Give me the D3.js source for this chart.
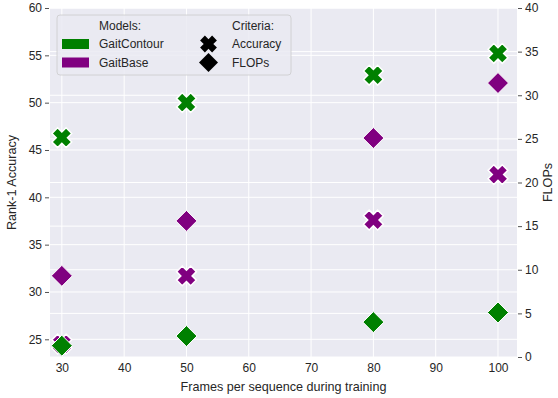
<!DOCTYPE html>
<html>
<head>
<meta charset="utf-8">
<script src="https://cdn.jsdelivr.net/npm/d3@7"></script>
<style>
  body { margin: 0; background: #fff; }
  svg { display: block; font-family: "Liberation Sans", Arial, sans-serif; }
</style>
</head>
<body>
<div id="chart"></div>
<script>
// frames per sequence during training
const frames = [30, 50, 80, 100];
const models = ['GaitContour', 'GaitBase'];
const modelColors = ['#008000', '#800080'];

// rank-1 accuracy (left axis)
const accContour = [46.3, 50.0, 52.9, 55.2];
const accBase = [24.5, 31.7, 37.6, 42.4];
// FLOPs (right axis)
const flopsContour = [1.3, 2.4, 4.0, 5.1];
const flopsBase = [9.3, 15.6, 25.1, 31.4];

const xTicks = [30, 40, 50, 60, 70, 80, 90, 100];
const leftTicks = [25, 30, 35, 40, 45, 50, 55, 60];
const rightTicks = [0, 5, 10, 15, 20, 25, 30, 35, 40];

const W = 558, H = 398;
const plot = { left: 50, right: 517, top: 8, bottom: 357 };

const svg = d3.select('#chart').append('svg')
  .attr('width', W).attr('height', H);

const x = d3.scaleLinear().domain([28.1, 103.05]).range([plot.left, plot.right]);
const yL = d3.scaleLinear().domain([23.13, 60]).range([plot.bottom, plot.top]);
const yR = d3.scaleLinear().domain([0, 40]).range([plot.bottom, plot.top]);

const textColor = '#262626';

// background
svg.append('rect')
  .attr('x', plot.left).attr('y', plot.top)
  .attr('width', plot.right - plot.left).attr('height', plot.bottom - plot.top)
  .attr('fill', '#EAEAF2');

// grid
const grid = svg.append('g').attr('stroke', '#fff').attr('stroke-width', 1);
grid.selectAll('.gx').data(xTicks).enter().append('line')
  .attr('x1', (d) => x(d)).attr('x2', (d) => x(d))
  .attr('y1', plot.top).attr('y2', plot.bottom);
grid.selectAll('.gl').data(leftTicks).enter().append('line')
  .attr('x1', plot.left).attr('x2', plot.right)
  .attr('y1', (d) => yL(d)).attr('y2', (d) => yL(d));
grid.selectAll('.gr').data(rightTicks).enter().append('line')
  .attr('x1', plot.left).attr('x2', plot.right)
  .attr('y1', (d) => yR(d)).attr('y2', (d) => yR(d));

// axes
const styleAxis = (g) => {
  g.select('.domain').remove();
  g.selectAll('.tick line').attr('stroke', textColor).attr('stroke-width', 0.8);
  g.selectAll('.tick text').attr('fill', textColor).style('font-size', '12px')
    .style('font-family', '"Liberation Sans", Arial, sans-serif');
};

svg.append('g')
  .attr('transform', `translate(0,${plot.bottom})`)
  .call(d3.axisBottom(x).tickValues(xTicks).tickSize(0).tickPadding(6))
  .call(styleAxis);

svg.append('g')
  .attr('transform', `translate(${plot.left - 1},0)`)
  .call(d3.axisLeft(yL).tickValues(leftTicks).tickSize(4).tickPadding(3))
  .call(styleAxis);

svg.append('g')
  .attr('transform', `translate(${plot.right + 1},0)`)
  .call(d3.axisRight(yR).tickValues(rightTicks).tickSize(4).tickPadding(3))
  .call(styleAxis);

// axis labels
svg.append('text')
  .attr('x', (plot.left + plot.right) / 2).attr('y', 391)
  .attr('text-anchor', 'middle').attr('fill', textColor).style('font-size', '12.6px')
  .text('Frames per sequence during training');
svg.append('text')
  .attr('transform', `translate(16,${(plot.top + plot.bottom) / 2}) rotate(-90)`)
  .attr('text-anchor', 'middle').attr('fill', textColor).style('font-size', '12.6px')
  .text('Rank-1 Accuracy');
svg.append('text')
  .attr('transform', `translate(552,${(plot.top + plot.bottom) / 2}) rotate(-90)`)
  .attr('text-anchor', 'middle').attr('fill', textColor).style('font-size', '12.6px')
  .text('FLOPs');

// marker shapes
const xMarker = (s) => {
  // thick X: plus shape rotated 45 degrees
  const a = s / 2, w = s * 0.2;
  const pts = [[-w, -a], [w, -a], [w, -w], [a, -w], [a, w], [w, w], [w, a], [-w, a], [-w, w], [-a, w], [-a, -w], [-w, -w]];
  const c = Math.SQRT1_2;
  return 'M' + pts.map(([px, py]) => [(px - py) * c, (px + py) * c].join(',')).join('L') + 'Z';
};
const diamond = (s) => {
  const a = s / 2;
  return `M0,${-a}L${a},0L0,${a}L${-a},0Z`;
};

const marks = svg.append('g');
const accSeries = [accContour, accBase];
const flopsSeries = [flopsContour, flopsBase];

accSeries.forEach((vals, i) => {
  marks.selectAll(null).data(vals).enter().append('path')
    .attr('d', xMarker(20))
    .attr('transform', (d, j) => `translate(${x(frames[j])},${yL(d)})`)
    .attr('fill', modelColors[i]).attr('stroke', '#fff').attr('stroke-width', 1.5);
});
flopsSeries.forEach((vals, i) => {
  marks.selectAll(null).data(vals).enter().append('path')
    .attr('d', diamond(21))
    .attr('transform', (d, j) => `translate(${x(frames[j])},${yR(d)})`)
    .attr('fill', modelColors[i]).attr('stroke', '#fff').attr('stroke-width', 1);
});

// legend
const lg = svg.append('g');
lg.append('rect')
  .attr('x', 57).attr('y', 15).attr('width', 234).attr('height', 60).attr('rx', 3)
  .attr('fill', '#EAEAF2').attr('fill-opacity', 0.85)
  .attr('stroke', '#cccccc').attr('stroke-width', 0.8);

const legendText = (tx, ty, t) => lg.append('text')
  .attr('x', tx).attr('y', ty).attr('dy', '0.35em')
  .attr('fill', textColor).style('font-size', '12px').text(t);

legendText(99, 26, 'Models:');
models.forEach((m, i) => {
  lg.append('rect').attr('x', 62).attr('y', 39 + i * 18.5).attr('width', 27).attr('height', 10)
    .attr('fill', modelColors[i]);
  legendText(99, 44 + i * 18.5, m);
});
legendText(232, 26, 'Criteria:');
lg.append('path').attr('d', xMarker(17))
  .attr('transform', 'translate(208.5,44)').attr('fill', '#000');
lg.append('path').attr('d', diamond(19))
  .attr('transform', 'translate(208.5,62.5)').attr('fill', '#000');
legendText(232, 44, 'Accuracy');
legendText(232, 62.5, 'FLOPs');
</script>
</body>
</html>
